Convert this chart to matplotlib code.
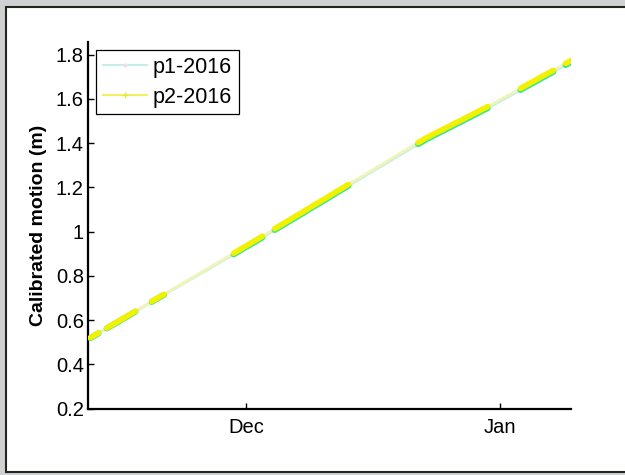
import datetime as dt
import matplotlib
matplotlib.use("Agg")
import matplotlib.pyplot as plt
import matplotlib.dates as mdates
from matplotlib.patches import Rectangle
from matplotlib.lines import Line2D

plt.rcParams['font.family'] = ['Liberation Sans', 'DejaVu Sans']

# Time stamps: days relative to 1 Dec 2016
t_days = [-19.0, -18.5, -18.0,
          -17.0, -16.5, -16.0, -15.5, -15.0, -14.5, -14.0, -13.5,
          -11.5, -11.0, -10.5, -10.0,
          -1.5, -1.0, -0.5, 0.0, 0.5, 1.0, 1.5, 2.0,
          3.5, 4.0, 4.5, 5.0, 5.5, 6.0, 6.5, 7.0, 7.5, 8.0, 8.5, 9.0,
          9.5, 10.0, 10.5, 11.0, 11.5, 12.0, 12.5,
          21.0, 21.5, 22.0, 22.5, 23.0, 23.5, 24.0, 24.5, 25.0, 25.5,
          26.0, 26.5, 27.0, 27.5, 28.0, 28.5, 29.0, 29.5,
          33.5, 34.0, 34.5, 35.0, 35.5, 36.0, 36.5, 37.0, 37.5,
          39.0, 39.5, 40.0]

# Calibrated motion (m), station p2
p2_motion = [0.520, 0.531, 0.542,
             0.564, 0.575, 0.585, 0.596, 0.607, 0.618, 0.629, 0.640,
             0.684, 0.695, 0.706, 0.716,
             0.902, 0.913, 0.924, 0.935, 0.946, 0.957, 0.968, 0.979,
             1.013, 1.024, 1.035, 1.046, 1.057, 1.068, 1.079, 1.090, 1.102, 1.113, 1.124, 1.135,
             1.146, 1.157, 1.168, 1.180, 1.191, 1.202, 1.213,
             1.402, 1.413, 1.424, 1.433, 1.443, 1.452, 1.461, 1.471, 1.480, 1.490,
             1.499, 1.508, 1.518, 1.527, 1.537, 1.546, 1.556, 1.565,
             1.647, 1.658, 1.668, 1.678, 1.688, 1.699, 1.709, 1.719, 1.729,
             1.760, 1.770, 1.781]

# Calibrated motion (m), station p1
p1_motion = [0.518, 0.529, 0.540,
             0.562, 0.573, 0.583, 0.594, 0.605, 0.616, 0.627, 0.638,
             0.682, 0.693, 0.704, 0.714,
             0.897, 0.908, 0.919, 0.930, 0.940, 0.951, 0.962, 0.973,
             1.007, 1.018, 1.029, 1.040, 1.051, 1.062, 1.073, 1.084, 1.096, 1.107, 1.118, 1.129,
             1.140, 1.151, 1.162, 1.174, 1.185, 1.196, 1.207,
             1.395, 1.406, 1.417, 1.426, 1.436, 1.445, 1.454, 1.464, 1.473, 1.483,
             1.492, 1.501, 1.511, 1.520, 1.530, 1.539, 1.549, 1.558,
             1.640, 1.651, 1.661, 1.671, 1.681, 1.692, 1.702, 1.712, 1.722,
             1.753, 1.763, 1.774]

y_ticks = [0.2, 0.4, 0.6, 0.8, 1.0, 1.2, 1.4, 1.6, 1.8]
y_tick_labels = ['0.2', '0.4', '0.6', '0.8', '1', '1.2', '1.4', '1.6', '1.8']

origin = dt.datetime(2016, 12, 1)
times = [origin + dt.timedelta(days=d) for d in t_days]


def split_at_gaps(days, values, max_gap=0.75):
    """Break the series with NaN wherever consecutive samples are far apart."""
    xs, ys = [], []
    for i, (d, v) in enumerate(zip(days, values)):
        if i and d - days[i - 1] > max_gap:
            xs.append(origin + dt.timedelta(days=(d + days[i - 1]) / 2))
            ys.append(float('nan'))
        xs.append(origin + dt.timedelta(days=d))
        ys.append(v)
    return xs, ys


W, H = 625, 475
fig = plt.figure(figsize=(W / 100, H / 100), dpi=100, facecolor='#d0d1d3')

# white panel with dark outline
fig.patches.append(Rectangle((6 / W, 3 / H), 1.2, (472 - 7) / H,
                             transform=fig.transFigure, facecolor='white',
                             edgecolor='#26261e', linewidth=1.5, zorder=-5))

ax = fig.add_axes([88 / W, (H - 408.5) / H, (571 - 88) / W, (408.5 - 42) / H])
ax.set_zorder(2)
ax.patch.set_alpha(0)

p1_line = '#c4efe8'
p1_mark = '#3fe68c'
p2_line = '#f0f4b4'
p2_mark = '#f2f200'

# thin connecting lines
ax.plot(times, p1_motion, color=p1_line, lw=2.0, zorder=2)
ax.plot(times, p2_motion, color=p2_line, lw=2.0, zorder=3)

# densely sampled stretches drawn as solid bands
x1, y1 = split_at_gaps(t_days, p1_motion)
x2, y2 = split_at_gaps(t_days, p2_motion)
ax.plot(x1, y1, color=p1_mark, lw=4.4, solid_capstyle='round', zorder=4)
ax.plot(x2, y2, color=p2_mark, lw=4.0, solid_capstyle='round', zorder=5)

ax.set_xlim(origin + dt.timedelta(days=-19.28), origin + dt.timedelta(days=39.66))
ax.set_ylim(0.2, 1.857)
ax.set_yticks(y_ticks)
ax.set_yticklabels(y_tick_labels)
ax.xaxis.set_major_locator(mdates.MonthLocator())
ax.xaxis.set_major_formatter(mdates.DateFormatter('%b'))

for s in ('top', 'right'):
    ax.spines[s].set_visible(False)
for s in ('left', 'bottom'):
    ax.spines[s].set_linewidth(1.6)
    ax.spines[s].set_color('black')
ax.tick_params(direction='in', length=4, width=1, labelsize=14.5, colors='black')
ax.tick_params(axis='y', pad=3)
ax.tick_params(axis='x', pad=7)

ax.set_ylabel('Calibrated motion (m)', fontsize=14, fontweight='bold', labelpad=6)

handles = [Line2D([], [], color=p1_line, lw=1.5, marker='.', ms=4, mfc='#f3dce8', mec='#f3dce8'),
           Line2D([], [], color='#f0f060', lw=1.5, marker='+', ms=5, mec='#e6e640')]
leg = ax.legend(handles, ['p1-2016', 'p2-2016'], loc='upper left',
                bbox_to_anchor=((96 - 88) / 483, (408.5 - 50) / 366.5),
                borderaxespad=0, fontsize=15.5, fancybox=False, framealpha=1,
                edgecolor='black', handlelength=2.05, handletextpad=0.25,
                labelspacing=0.4, borderpad=0.32)
leg.get_frame().set_linewidth(0.9)

fig.savefig('out.png', dpi=100, facecolor=fig.get_facecolor())
